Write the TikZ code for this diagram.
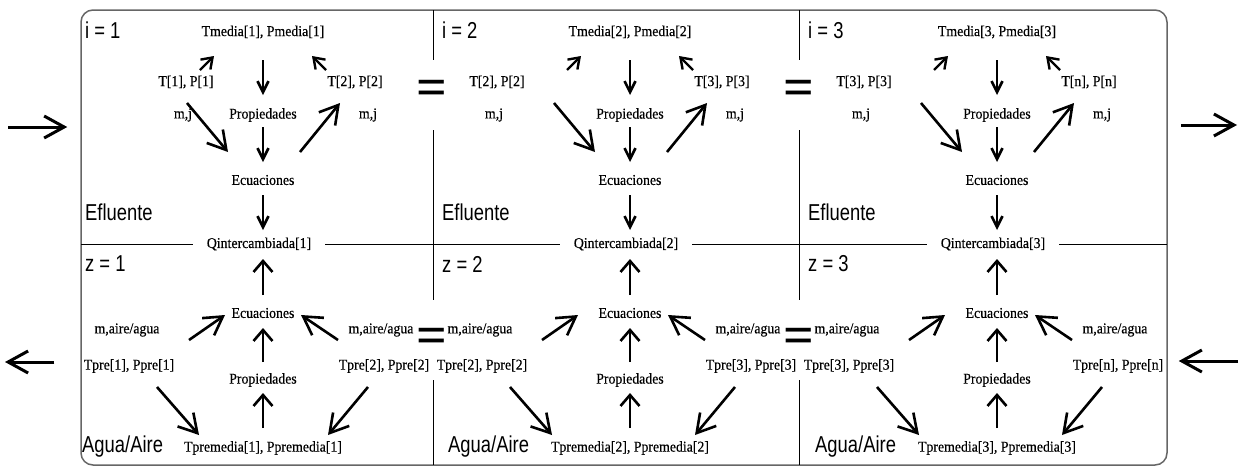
\documentclass[tikz,border=0pt]{standalone}
\usepackage{fontspec}
\setmainfont{Liberation Serif}
\newfontfamily\lblfont[FakeStretch=0.92, FakeBold=0.4]{Liberation Serif}
\newfontfamily\bigfont[FakeStretch=0.8]{Liberation Sans}
\usetikzlibrary{arrows.meta, calc}
\tikzset{
  lbl/.style={inner sep=0pt, font=\lblfont\fontsize{15}{15}\selectfont},
  big/.style={inner sep=0pt, anchor=west, font=\bigfont\fontsize{23}{23}\selectfont},
  eqsign/.style={inner sep=0pt, font=\fontsize{54}{54}\selectfont\bfseries},
  outerbox/.style={draw=black!60, line width=1.5pt, rounded corners=12pt,
                   minimum width=1086pt, minimum height=455pt, inner sep=0pt},
  divline/.style={line width=1pt},
  arr/.style={line width=2.6pt, -{Straight Barb[length=18pt,width=21pt]}},
  vdown/.style={line width=2.6pt, -{Straight Barb[length=11pt,width=11pt]}},
  vup/.style={line width=2.6pt, -{Straight Barb[length=11pt,width=19pt]}},
  smallarr/.style={line width=2.4pt, -{Straight Barb[length=10pt,width=14pt]}},
  bigarr/.style={line width=3pt, -{Straight Barb[length=20pt,width=22pt]}}
}
\begin{document}
\begin{tikzpicture}[x=1pt, y=-1pt]
  \useasboundingbox (0,0) rectangle (1240,475);

  % Frame and dividers
  \node[outerbox] (box) at (624,237.5) {};
  \draw[divline] (81,244) -- (1167,244);
  \foreach \xd in {433,799}
    \draw[divline] (\xd,10) -- (\xd,60) (\xd,130) -- (\xd,300) (\xd,380) -- (\xd,465);
  \node[eqsign] (eqa1) at (432,93) {=};
  \node[eqsign] (eqb1) at (432,341) {=};
  \node[eqsign] (eqa2) at (799,93) {=};
  \node[eqsign] (eqb2) at (799,341) {=};

  % Inlet and outlet arrows
  \coordinate (inA) at (8,127);
  \draw[bigarr] (inA) -- ($(box.west |- inA)+(-13,0)$);
  \coordinate (outA) at (1237,125);
  \draw[bigarr] ($(box.east |- outA)+(13,0)$) -- (outA);
  \coordinate (outB) at (5,362);
  \draw[bigarr] ($(box.west |- outB)+(-26,0)$) -- (outB);
  \coordinate (inB) at (1238,361);
  \draw[bigarr] (inB) -- ($(box.east |- inB)+(11,0)$);

  % Sections
  \foreach \i/\cx/\lx/\ax/\dl/\db/\nx/\tmed in {
      1/263/85/82/56/14/2/{Tmedia[1], Pmedia[1]},
      2/630/442/448/0/0/3/{Tmedia[2], Pmedia[2]},
      3/997/808/815/0/0/n/{Tmedia[3, Pmedia[3]}}
  {
    % Efluente
    \node[big] (ilbl\i) at (\lx,30) {i = \i};
    \node[big] (efl\i) at (\lx,212) {Efluente};
    \node[lbl] (tm\i) at (\cx,32) {\tmed};
    \node[lbl] (tl\i) at (\cx-133+\dl,82) {T[\i], P[\i]};
    \node[lbl] (ml\i) at (\cx-136+\dl,115) {m,j};
    \node[lbl] (tr\i) at (\cx+92,82) {T[\nx], P[\nx]};
    \node[lbl] (mr\i) at (\cx+105,115) {m,j};
    \node[lbl] (pr\i) at (\cx,115) {Propiedades};
    \node[lbl] (ec\i) at (\cx,180) {Ecuaciones};
    \node[lbl, fill=white, inner xsep=14pt] (qi\i) at (\cx-4,244) {Qintercambiada[\i]};

    \draw[vdown, shorten <=28pt, shorten >=20pt] (tm\i.center) -- (pr\i.center);
    \draw[vdown, shorten <=12pt, shorten >=18pt] (pr\i.center) -- (ec\i.center);
    \draw[vdown, shorten <=15pt, shorten >=14pt] (ec\i.center) -- (ec\i.center |- qi\i.center);
    \draw[arr] ([shift={({57-\dl},21)}]tl\i.center) -- ([shift={(-35,-28)}]ec\i.center);
    \draw[arr] ([shift={(37,-28)}]ec\i.center) -- ([shift={(-15,21)}]tr\i.center);
    \draw[smallarr] ([shift={({70-\dl},-12)}]tl\i.center) -- ([shift={(-49,24)}]tm\i.center);
    \draw[smallarr] ([shift={(-29,-12)}]tr\i.center) -- ([shift={(49,24)}]tm\i.center);

    % Agua/Aire
    \node[big] (zlbl\i) at (\lx,264) {z = \i};
    \node[big] (agua\i) at (\ax,447) {Agua/Aire};
    \node[lbl] (eb\i) at (\cx,313) {Ecuaciones};
    \node[lbl] (pb\i) at (\cx,380) {Propiedades};
    \node[lbl] (tp\i) at (\cx,448) {Tpremedia[\i], Ppremedia[\i]};
    \node[lbl] (ma\i) at (\cx-150+\db,330) {m,aire/agua};
    \node[lbl] (tpl\i) at (\cx-148+\db,366) {Tpre[\i], Ppre[\i]};
    \node[lbl] (mar\i) at (\cx+118,330) {m,aire/agua};
    \node[lbl] (tpr\i) at (\cx+121,366) {Tpre[\nx], Ppre[\nx]};

    \draw[vup, shorten <=18pt, shorten >=15pt] (eb\i.center) -- (eb\i.center |- qi\i.center);
    \draw[vup, shorten <=18pt, shorten >=15pt] (pb\i.center) -- (eb\i.center);
    \draw[vup, shorten <=20pt, shorten >=13pt] (tp\i.center) -- (pb\i.center);
    \draw[arr] ([shift={(62,10)}]ma\i.center) -- ([shift={({-52+\db},2)}]eb\i.center);
    \draw[arr] ([shift={(-43,10)}]mar\i.center) -- ([shift={(38,2)}]eb\i.center);
    \draw[arr] ([shift={(28,21)}]tpl\i.center) -- ([shift={({-78+\db},-13)}]tp\i.center);
    \draw[arr] ([shift={(-16,21)}]tpr\i.center) -- ([shift={(65,-13)}]tp\i.center);
  }
\end{tikzpicture}
\end{document}
